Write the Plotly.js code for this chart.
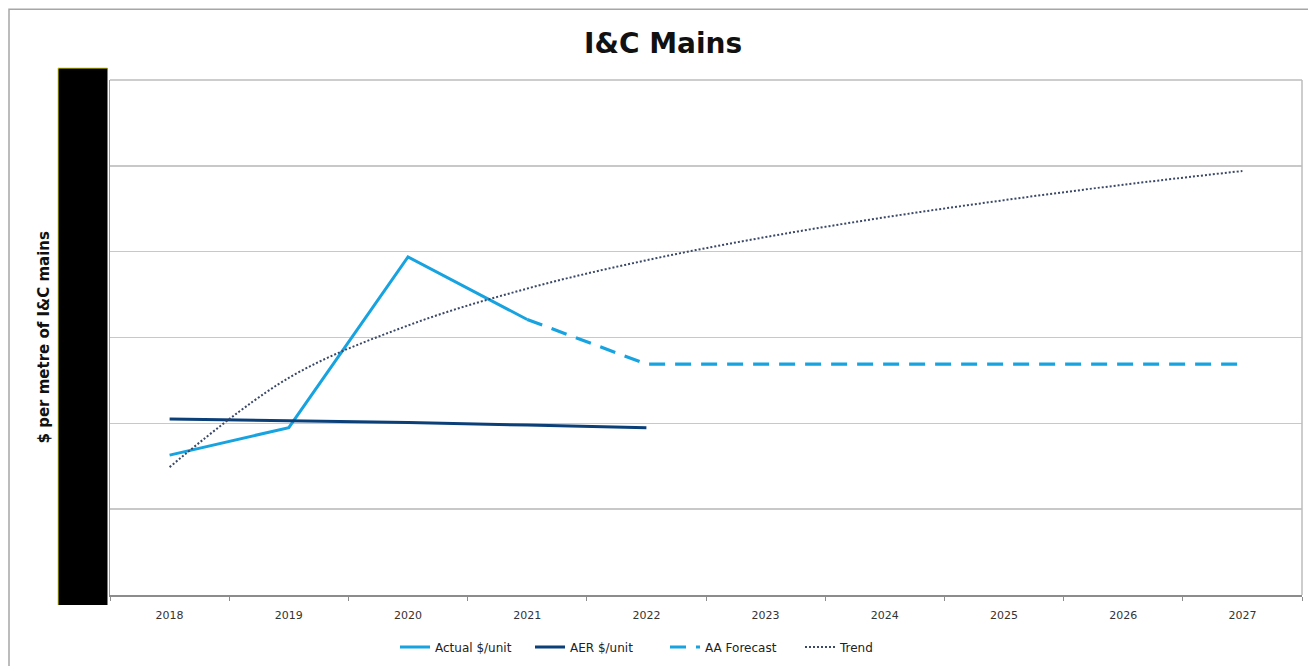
<!DOCTYPE html>
<html>
<head>
<meta charset="utf-8">
<script src="https://cdn.plot.ly/plotly-3.0.1.min.js"></script>
<style>
  html, body { margin: 0; padding: 0; background: #ffffff; }
  #chart { width: 1308px; height: 666px; }
</style>
</head>
<body>
<div id="chart"></div>
<script>
// Cost per metre of I&C mains, 2018-2027
const years = ['2018', '2019', '2020', '2021', '2022', '2023', '2024', '2025', '2026', '2027'];
const actualPerUnit = [1.63, 1.95, 3.94, 3.21, null, null, null, null, null, null];
const aerPerUnit = [2.05, 2.03, 2.01, 1.98, 1.95, null, null, null, null, null];
const aaForecast = [null, null, null, 3.21, 2.69, 2.69, 2.69, 2.69, 2.69, 2.69];
const trendValues = [1.49, 2.53, 3.14, 3.57, 3.90, 4.17, 4.40, 4.60, 4.78, 4.94];

const font = 'DejaVu Sans, Verdana, sans-serif';

const traces = [
  {
    x: years, y: actualPerUnit, name: 'Actual $/unit', type: 'scatter', mode: 'lines',
    line: { color: '#17a3e0', width: 3 }
  },
  {
    x: years, y: aerPerUnit, name: 'AER $/unit', type: 'scatter', mode: 'lines',
    line: { color: '#0b3f78', width: 3 }
  },
  {
    x: years, y: aaForecast, name: 'AA Forecast', type: 'scatter', mode: 'lines',
    line: { color: '#17a3e0', width: 3.2, dash: '16px,10px' }
  },
  {
    x: years, y: trendValues, name: 'Trend', type: 'scatter', mode: 'lines',
    line: { color: '#3a4868', width: 2, dash: '2px,2px', shape: 'spline' }
  }
];

// pixel helpers for paper-coordinate shapes (plot area 110..1302 x 80..596)
const px = v => (v - 110) / 1192;
const py = v => (596 - v) / 516;

const layout = {
  width: 1308,
  height: 666,
  margin: { l: 110, r: 6, t: 80, b: 70 },
  paper_bgcolor: '#ffffff',
  plot_bgcolor: '#ffffff',
  font: { family: font, color: '#333333', size: 11 },
  title: {
    text: '<b>I&C Mains</b>',
    font: { family: font, size: 28, color: '#111111' },
    x: 0.507, xanchor: 'center', xref: 'container',
    y: 1 - 43 / 666, yanchor: 'middle', yref: 'container'
  },
  showlegend: true,
  legend: {
    orientation: 'h',
    x: px(395), xanchor: 'left',
    y: py(647), yanchor: 'middle',
    font: { family: font, size: 12, color: '#222222' },
    entrywidth: 90,
    entrywidthmode: 'pixels',
    tracegroupgap: 0
  },
  xaxis: {
    type: 'category',
    range: [-0.5, 9.5],
    showgrid: false,
    showline: true,
    linecolor: '#8c8c8c',
    linewidth: 1.5,
    mirror: false,
    ticks: 'outside',
    tickson: 'boundaries',
    ticklen: 4,
    tickcolor: '#8c8c8c',
    ticklabelstandoff: 9,
    tickfont: { family: font, size: 11, color: '#333333' },
    fixedrange: true
  },
  yaxis: {
    range: [0, 6],
    dtick: 1,
    showgrid: true,
    gridcolor: '#c8c8c8',
    gridwidth: 1.5,
    zeroline: false,
    showline: true,
    linecolor: '#9a9a9a',
    linewidth: 1.5,
    showticklabels: false,
    ticks: '',
    fixedrange: true
  },
  shapes: [
    // outer chart frame
    { type: 'rect', xref: 'paper', yref: 'paper', x0: px(9), x1: px(1312), y0: py(672), y1: py(9),
      line: { color: '#a6a6a6', width: 1.5 }, fillcolor: 'rgba(0,0,0,0)', layer: 'below' },
    // plot area border (top and right)
    { type: 'line', xref: 'paper', yref: 'paper', x0: 0, x1: 1, y0: 1, y1: 1,
      line: { color: '#bdbdbd', width: 1.5 } },
    { type: 'line', xref: 'paper', yref: 'paper', x0: 1, x1: 1, y0: 0, y1: 1,
      line: { color: '#bdbdbd', width: 1.5 } },
    // block over the value axis labels
    { type: 'rect', xref: 'paper', yref: 'paper', x0: px(58), x1: px(107.5), y0: py(606), y1: py(68),
      fillcolor: '#000000', line: { width: 0 } },
    { type: 'line', xref: 'paper', yref: 'paper', x0: px(58), x1: px(58), y0: py(606), y1: py(68),
      line: { color: '#e8e000', width: 1 } },
    { type: 'line', xref: 'paper', yref: 'paper', x0: px(58), x1: px(107.5), y0: py(68), y1: py(68),
      line: { color: '#e8e000', width: 1 } }
  ],
  annotations: [
    {
      text: '<b>$ per metre of I&C mains</b>',
      xref: 'paper', yref: 'paper',
      x: px(43), y: py(338),
      xanchor: 'center', yanchor: 'middle',
      textangle: -90,
      showarrow: false,
      font: { family: font, size: 15, color: '#111111' }
    }
  ]
};

Plotly.newPlot('chart', traces, layout, { displayModeBar: false, staticPlot: true });
</script>
</body>
</html>
